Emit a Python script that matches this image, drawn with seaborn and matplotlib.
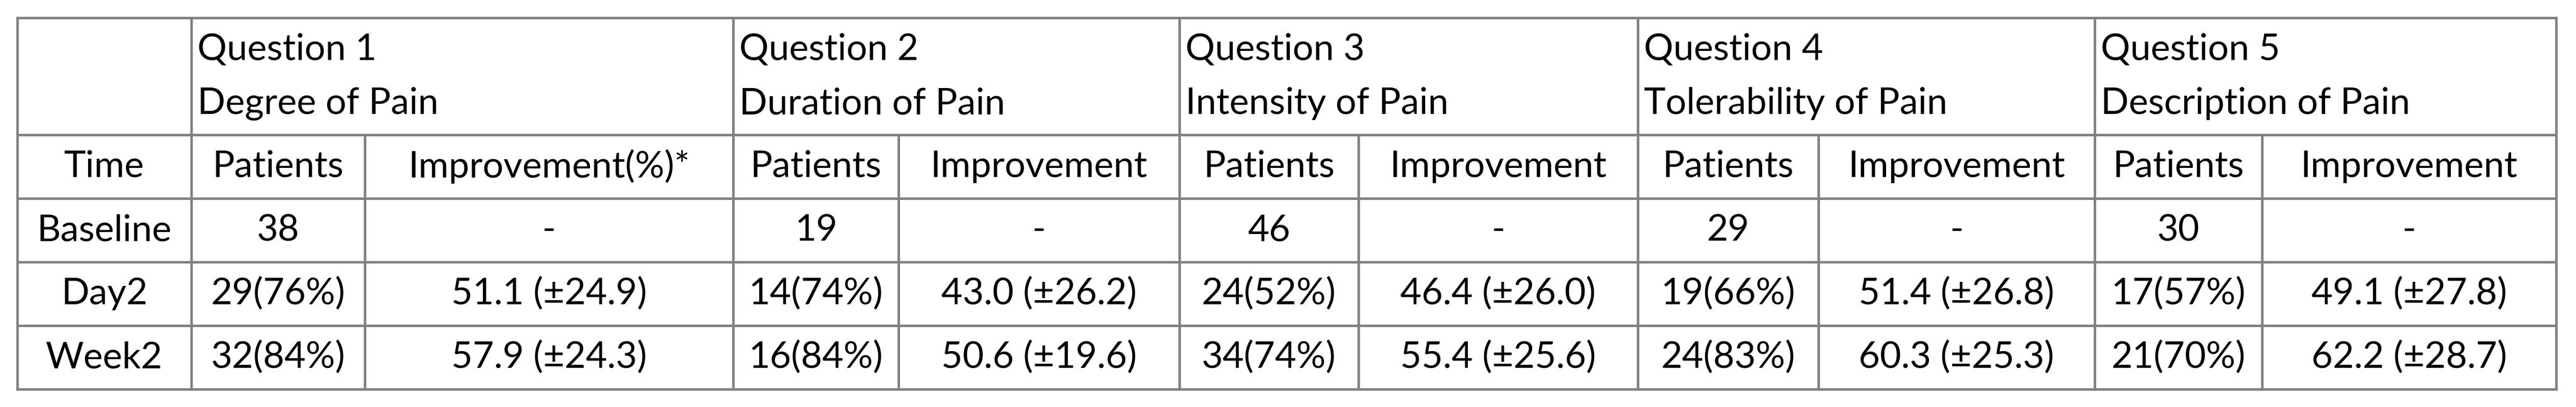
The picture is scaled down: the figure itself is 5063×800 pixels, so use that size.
import numpy as np
import pandas as pd
import matplotlib.pyplot as plt
import seaborn as sns

# ============================================================
# Table data
# ============================================================

questions = ["Question 1", "Question 2", "Question 3", "Question 4", "Question 5"]
subjects = ["Degree of Pain", "Duration of Pain", "Intensity of Pain",
            "Tolerability of Pain", "Description of Pain"]
sub_headers = ["Patients", "Improvement(%)*", "Patients", "Improvement",
               "Patients", "Improvement", "Patients", "Improvement",
               "Patients", "Improvement"]
times = ["Baseline", "Day2", "Week2"]

baseline = ["38", "-", "19", "-", "46", "-", "29", "-", "30", "-"]
day2 = ["29(76%)", "51.1 (±24.9)", "14(74%)", "43.0 (±26.2)", "24(52%)",
        "46.4 (±26.0)", "19(66%)", "51.4 (±26.8)", "17(57%)", "49.1 (±27.8)"]
week2 = ["32(84%)", "57.9 (±24.3)", "16(84%)", "50.6 (±19.6)", "34(74%)",
         "55.4 (±25.6)", "24(83%)", "60.3 (±25.3)", "21(70%)", "62.2 (±28.7)"]

# column / row edges in pixel space
col_edges = [34, 376, 717, 1441, 1766, 2318, 2670, 3219, 3574, 4117, 4446, 5024]
row_edges = [35, 265, 390, 515, 640, 765]

body = pd.DataFrame([baseline, day2, week2], index=times)

# ============================================================
# Draw
# ============================================================

sns.set_theme(style="white")
plt.rcParams['font.family'] = ['Lato', 'DejaVu Sans']

fig = plt.figure(figsize=(50.63, 8), dpi=100)
ax = fig.add_axes([0, 0, 1, 1])
ax.set_xlim(0, 5063)
ax.set_ylim(800, 0)
ax.axis("off")

line_kw = dict(color="#808080", linewidth=3.5, solid_capstyle="projecting")
fs = 52

# horizontal lines
for y in row_edges:
    ax.plot([col_edges[0], col_edges[-1]], [y, y], **line_kw)

# vertical lines: full height at group boundaries, lower part inside groups
for i, x in enumerate(col_edges):
    if i in (0, 1, 3, 5, 7, 9, 11):
        ax.plot([x, x], [row_edges[0], row_edges[-1]], **line_kw)
    else:
        ax.plot([x, x], [row_edges[1], row_edges[-1]], **line_kw)

# group headers (left aligned, two lines)
for q, (title, sub) in enumerate(zip(questions, subjects)):
    x0 = col_edges[1 + 2 * q] + 12
    ax.text(x0, 97, title, fontsize=fs, va="center", ha="left", color="black")
    ax.text(x0, 204, sub, fontsize=fs, va="center", ha="left", color="black")

def cell_center(c, r):
    return (col_edges[c] + col_edges[c + 1]) / 2, (row_edges[r] + row_edges[r + 1]) / 2

# second header row
x, y = cell_center(0, 1)
ax.text(x, y, "Time", fontsize=fs, ha="center", va="center", color="black")
for c, label in enumerate(sub_headers):
    x, y = cell_center(c + 1, 1)
    ax.text(x, y, label, fontsize=fs, ha="center", va="center", color="black")

# body rows
for r, t in enumerate(body.index):
    x, y = cell_center(0, r + 2)
    ax.text(x, y, t, fontsize=fs, ha="center", va="center", color="black")
    for c, val in enumerate(body.loc[t]):
        x, y = cell_center(c + 1, r + 2)
        ax.text(x, y, val, fontsize=fs, ha="center", va="center", color="black")

fig.savefig("out.png", dpi=100, facecolor="white")
